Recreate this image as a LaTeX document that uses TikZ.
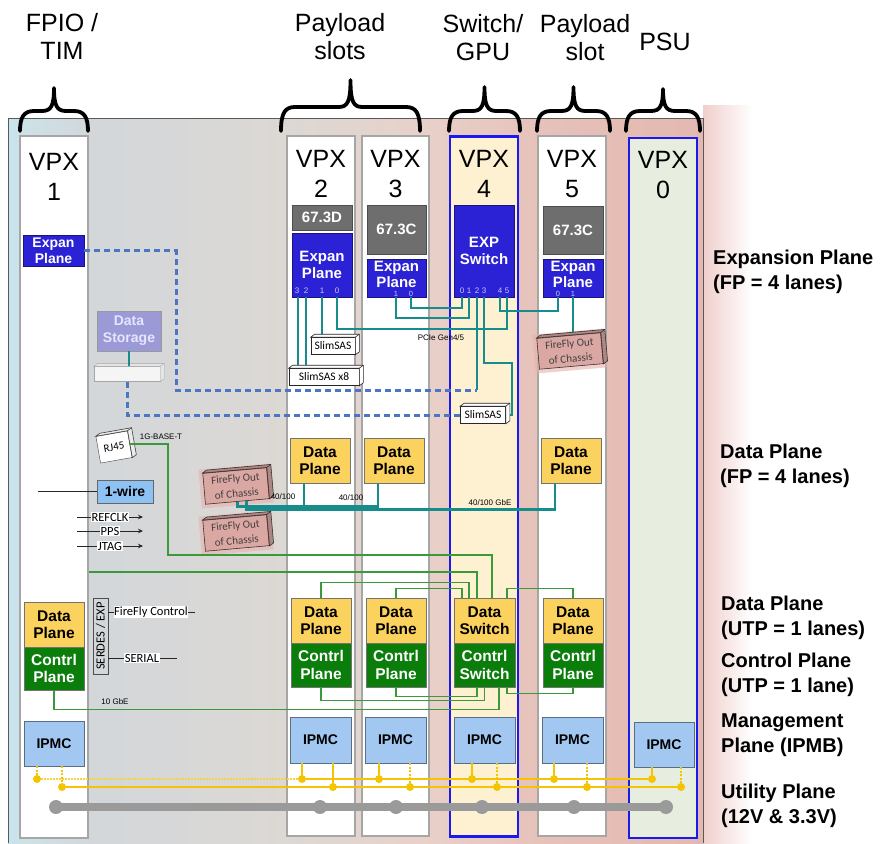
\documentclass[tikz,border=0pt]{standalone}
\usepackage{fontspec}
\setmainfont{Liberation Sans}
\newfontfamily\calfont{Carlito}
\usetikzlibrary{arrows.meta}
\definecolor{slotgray}{HTML}{A6A6A6}
\definecolor{slotblue}{HTML}{1A1AF0}
\definecolor{expblue}{HTML}{2A22D4}
\definecolor{grbox}{HTML}{6E6E6E}
\definecolor{dpyel}{HTML}{FCD25E}
\definecolor{cpgreen}{HTML}{0B7D0B}
\definecolor{ipmcblue}{HTML}{A2C8F2}
\definecolor{wireblue}{HTML}{8EC2F5}
\definecolor{dsfill}{HTML}{9C9AD6}
\definecolor{tealc}{HTML}{178C8C}
\definecolor{dashblue}{HTML}{4A76C4}
\definecolor{lgreen}{HTML}{3A9A3A}
\definecolor{goldc}{HTML}{F5C400}
\definecolor{barc}{HTML}{9A9A9A}
\definecolor{ffpink}{HTML}{DBA7A3}
\definecolor{ffglow}{HTML}{E9B0AC}
\definecolor{swfill}{HTML}{FDF1D2}
\definecolor{psufill}{HTML}{E7EEDF}
\definecolor{glowpink}{HTML}{EFCFCC}
\definecolor{portc}{HTML}{C8C8FF}
\definecolor{bgA}{HTML}{C6E4EE}
\definecolor{bgB}{HTML}{CDE2E8}
\definecolor{bgC}{HTML}{D3D7DA}
\definecolor{bgD}{HTML}{DCD8D4}
\definecolor{bgE}{HTML}{E8D1C9}
\definecolor{bgF}{HTML}{E6C2BA}
\definecolor{bgG}{HTML}{E3B8B0}
\pgfdeclarehorizontalshading{panelshade}{100bp}{color(0bp)=(bgA); color(25bp)=(bgA); color(26bp)=(bgB); color(31bp)=(bgC); color(45bp)=(bgD); color(55bp)=(bgE); color(63bp)=(bgF); color(75bp)=(bgG); color(100bp)=(bgG)}
\newcommand\mybrace[4]{%
  \draw[bracestyle] (#1,131) .. controls (#1,{#3+6}) and ({#1+4},#3) .. ({#1+14},#3)
    -- ({(#1+#2)/2-12},#3) .. controls ({(#1+#2)/2-3},#3) and ({(#1+#2)/2},{#3-5}) .. ({(#1+#2)/2},#4)
    .. controls ({(#1+#2)/2},{#3-5}) and ({(#1+#2)/2+3},#3) .. ({(#1+#2)/2+12},#3)
    -- ({#2-14},#3) .. controls ({#2-4},#3) and (#2,{#3+6}) .. (#2,131);}
\newcommand\boxdepth[2]{%
  \draw[#2] (#1.north west) -- ([shift={(4,-3)}]#1.north west) -- ([shift={(4,-3)}]#1.north east)
    -- ([shift={(4,-3)}]#1.south east) -- (#1.south east) -- (#1.north east) -- cycle;
  \draw[#2, fill=none] (#1.north east) -- ([shift={(4,-3)}]#1.north east);}
\begin{document}
\begin{tikzpicture}[x=1pt,y=-1pt,
  title/.style={align=center, font=\fontsize{25}{28}\selectfont, inner sep=0pt},
  vpx/.style={align=center, font=\fontsize{25}{30}\selectfont, inner sep=0pt},
  slot/.style={draw=slotgray, line width=2.2pt, fill=white, minimum width=68pt, inner sep=0pt},
  bslot/.style={slot, draw=slotblue},
  bracestyle/.style={line width=3.8pt, line cap=round, line join=round},
  bx/.style={inner sep=0pt, align=center, font=\bfseries\fontsize{15}{17}\selectfont, line width=0.8pt},
  expb/.style={bx, fill=expblue, draw=expblue!60!black, text=white},
  btext/.style={inner sep=0pt, align=center, text=white, font=\bfseries\fontsize{15}{16}\selectfont},
  grb/.style={bx, fill=grbox, draw=grbox!70!black, text=white},
  dpb/.style={bx, fill=dpyel, draw=black!55, minimum width=60pt, minimum height=45pt, font=\bfseries\fontsize{15.5}{17.5}\selectfont},
  cpb/.style={bx, fill=cpgreen, draw=black!55, text=white, minimum width=60pt, minimum height=44pt, font=\bfseries\fontsize{15.5}{17.5}\selectfont},
  ipmcb/.style={bx, fill=ipmcblue, draw=ipmcblue!55!black, minimum width=61pt, minimum height=46pt, font=\bfseries\fontsize{14}{16}\selectfont},
  port/.style={inner sep=0pt, font=\fontsize{8}{8}\selectfont, text=portc},
  sport/.style={port, font=\fontsize{7.5}{7.5}\selectfont},
  slimb/.style={draw=black!85, fill=white, line width=0.6pt, inner sep=0pt, font=\calfont\fontsize{11.5}{12}\selectfont, minimum height=17pt},
  ffb/.style={draw=black!80, fill=ffpink, line width=0.6pt, inner sep=0pt, align=center, font=\calfont\fontsize{11}{15}\selectfont, text=black!75, minimum width=64pt, minimum height=31pt, rotate=5, preaction={draw=ffglow, line width=8pt, opacity=0.6}},
  tealw/.style={draw=tealc, line width=2.6pt},
  dashw/.style={draw=dashblue, line width=3pt, dash pattern=on 6pt off 4pt},
  greenw/.style={draw=lgreen, line width=1.6pt},
  small/.style={inner sep=0pt, font=\fontsize{8}{9}\selectfont},
  sig/.style={inner sep=0.6pt, fill=white, font=\calfont\fontsize{12.5}{14}\selectfont},
  sigline/.style={draw=black!85, line width=0.9pt},
  goldw/.style={draw=goldc, line width=2pt},
  golddot/.style={circle, fill=goldc, inner sep=0pt, minimum size=8pt},
  bardot/.style={circle, fill=barc, inner sep=0pt, minimum size=14pt},
  rlab/.style={anchor=west, align=left, inner sep=0pt, font=\bfseries\fontsize{20}{25}\selectfont},
]
\useasboundingbox (0,0) rectangle (880,843);
\fill[white] (0,0) rectangle (880,843);
% glow and panel
\shade[left color=glowpink, right color=white] (703,105) rectangle (752,843);
\shade[shading=panelshade] (8,118) rectangle (703,843);
\draw[black!65, line width=1pt] (8,843) -- (8,118) -- (703,118) -- (703,843);

% titles
\node[title] (t1) at (62,36) {FPIO /\\TIM};
\node[title] (t2) at (340,37) {Payload\\slots};
\node[title] (t3) at (483,38) {Switch/\\GPU};
\node[title] (t4) at (585,38) {Payload\\slot};
\node[title] (t5) at (665,42) {PSU};
\mybrace{20}{88}{111}{88}
\mybrace{281}{420}{107}{80}
\mybrace{449}{520}{111}{87}
\mybrace{537}{610}{111}{87}
\mybrace{626}{700}{111}{89}

% slots
\node[slot, minimum height=702pt] (s1) at (54,487) {};
\node[slot, minimum height=700pt] (s2) at (321,486) {};
\node[slot, minimum width=67pt, minimum height=700pt] (s3) at (395.5,486) {};
\node[bslot, fill=swfill, minimum height=700pt] (s4) at (484,486.5) {};
\node[slot, minimum height=700pt] (s5) at (572,486) {};
\node[bslot, fill=psufill, minimum height=700pt] (s0) at (663,488) {};
\node[vpx] (v1) at (54,177) {VPX\\1};
\node[vpx] (v2) at (321,174) {VPX\\2};
\node[vpx] (v3) at (395.5,174) {VPX\\3};
\node[vpx] (v4) at (484,174) {VPX\\4};
\node[vpx] (v5) at (572,174) {VPX\\5};
\node[vpx] (v0) at (663,175) {VPX\\0};

% expansion plane boxes
\node[expb, minimum width=61pt, minimum height=31pt, font=\bfseries\fontsize{14}{16}\selectfont] (ex1) at (53.5,250.5) {Expan\\Plane};
\node[bx, fill=dsfill, draw=black!40, text=white!90!blue, minimum width=64pt, minimum height=40pt, font=\bfseries\fontsize{14}{17}\selectfont] (ds) at (129,331) {Data\\Storage};
\node[draw=black!35, fill=white!96!black, minimum width=66pt, minimum height=15pt, inner sep=0pt] (drive) at (127,374) {};
\boxdepth{drive}{draw=black!35, fill=white!90!black}
\node[grb, minimum width=60pt, minimum height=25pt] (g2) at (322,217.5) {67.3D};
\node[expb, minimum width=60pt, minimum height=64pt] (ex2) at (322,265) {Expan\\Plane};
\node[grb, minimum width=59pt, minimum height=49pt] (g3) at (396.5,229.5) {67.3C};
\node[expb, minimum width=59pt, minimum height=38pt] (ex3) at (396.5,278) {};
\node[btext] (ex3t) at (396.5,274.5) {Expan\\Plane};
\node[expb, minimum width=60pt, minimum height=92pt] (sw) at (484,251) {EXP\\Switch};
\node[grb, minimum width=60pt, minimum height=48pt] (g5) at (573,230) {67.3C};
\node[expb, minimum width=60pt, minimum height=38pt] (ex5) at (573,278) {};
\node[btext] (ex5t) at (573,274.5) {Expan\\Plane};
% ports
\node[port] (q23) at (297,291) {3};
\node[port] (q22) at (306,291) {2};
\node[port] (q21) at (322,291) {1};
\node[port] (q20) at (337,291) {0};
\node[sport] (q31) at (396,294.3) {1};
\node[sport] (q30) at (411,294.3) {0};
\node[port] (qs0) at (462,291) {0};
\node[port] (qs1) at (469,291) {1};
\node[port] (qs2) at (477,291) {2};
\node[port] (qs3) at (484,291) {3};
\node[port] (qs4) at (500,291) {4};
\node[port] (qs5) at (507,291) {5};
\node[sport] (q50) at (558,294.3) {0};
\node[sport] (q51) at (573,294.3) {1};
\coordinate (e2p3) at (298,297);
\coordinate (e2p2) at (306,297);
\coordinate (e2p1) at (322,297);
\coordinate (e2p0) at (337,297);
\coordinate (e3p1) at (396,297);
\coordinate (e3p0) at (411,297);
\coordinate (swp0) at (462,297);
\coordinate (swp1) at (469,297);
\coordinate (swp2) at (477,297);
\coordinate (swp3) at (484,297);
\coordinate (swp4) at (500,297);
\coordinate (swp5) at (507,297);
\coordinate (e5p0) at (558,297);
\coordinate (e5p1) at (573,297);

% slimsas and firefly
\node[slimb, minimum width=44pt] (slimA) at (333,346) {SlimSAS};
\node[slimb, minimum width=70pt] (slimB) at (324,377) {SlimSAS x8};
\node[slimb, minimum width=45pt] (slimC) at (483,415) {SlimSAS};
\node[ffb] (ff5) at (570,351) {FireFly Out\\of Chassis};
\node[ffb] (ff1) at (236,486) {FireFly Out\\of Chassis};
\node[ffb] (ff2) at (236,533) {FireFly Out\\of Chassis};
\node[draw=black!75, fill=white, rotate=10, minimum width=32pt, minimum height=27pt, inner sep=0pt, font=\calfont\fontsize{11}{12}\selectfont] (rj) at (114,447) {RJ45};

% teal connectors
\draw[tealw] (e2p3) -- (e2p3 |- slimB.north);
\draw[tealw] (e2p2) -- (e2p2 |- slimB.north);
\draw[tealw] (e2p1) -- (e2p1 |- slimA.north);
\draw[tealw] (e2p0) -- ++(0,32) -| (swp5);
\draw[tealw] (e3p1) -- ++(0,21) -| (swp1);
\draw[tealw] (e3p0) -- ++(0,11) -| (swp0);
\draw[tealw] (swp2) -- ++(0,93) coordinate (dashend);
\draw[tealw] (swp3) -- ++(0,66) -- ++(28,0) |- (slimC.east);
\draw[tealw] (swp4) -- ++(0,14) -| (e5p0);
\draw[tealw] (e5p1) -- (e5p1 |- ff5.north);
\draw[tealw] (ds.south) -- (ds.south |- drive.north);

% dashed expansion
\coordinate (dturn) at (176,390);
\draw[dashw] (ex1.east) -| (dturn) -- (dashend);
\draw[dashw] (drive.south) |- (slimC.west);

\boxdepth{slimA}{draw=black!85, fill=white, line width=0.6pt}
\boxdepth{slimB}{draw=black!85, fill=white, line width=0.6pt}
\boxdepth{slimC}{draw=black!85, fill=white, line width=0.6pt}
\boxdepth{ff5}{draw=black!80, fill=ffpink!80!black, line width=0.6pt}
\boxdepth{ff1}{draw=black!80, fill=ffpink!80!black, line width=0.6pt}
\boxdepth{ff2}{draw=black!80, fill=ffpink!80!black, line width=0.6pt}
\boxdepth{rj}{draw=black!75, fill=white!92!black, line width=0.6pt}

% data plane (FP)
\node[dpb] (dp2) at (320,460.5) {Data\\Plane};
\node[dpb] (dp3) at (394,460.5) {Data\\Plane};
\node[dpb] (dp5) at (571,460.5) {Data\\Plane};
\draw[tealw] (ff1.south) -- ++(0,5) -| ([xshift=-16pt]dp3.south);
\draw[tealw] ([xshift=-16pt]dp2.south) -- ++(0,23);
\draw[tealw] ([shift={(9,-1)}]ff1.south) -- ++(0,9) -| ([xshift=-16pt]dp5.south);
\node[small] (lb1) at (283,497) {40/100};
\node[small] (lb2) at (351,498) {40/100};
\node[small] (lb3) at (490,503) {40/100 GbE};
\node[small] (lb4) at (441,338) {PCIe Gen4/5};
\node[small] (lb5) at (161,437) {1G-BASE-T};
\node[small] (lb6) at (115,702) {10 GbE};

% 1-wire and signals
\node[bx, fill=wireblue, draw=black!60, minimum width=56pt, minimum height=23pt, font=\bfseries\fontsize{14}{16}\selectfont] (wire) at (125,491.5) {1-wire};
\coordinate (wl) at (38,491.5);
\draw[sigline] (wl) -- (wire.west);
\coordinate (ra) at (77,517); \coordinate (rb) at (143,517);
\coordinate (pa) at (77,531); \coordinate (pb) at (143,531);
\coordinate (ja) at (77,546); \coordinate (jb) at (143,546);
\draw[sigline, -{Stealth[length=5pt,width=4.5pt]}] (ra) -- (rb);
\draw[sigline, -{Stealth[length=5pt,width=4.5pt]}] (pa) -- (pb);
\draw[sigline, -{Stealth[length=5pt,width=4.5pt]}] (ja) -- (jb);
\node[sig] (rf) at (110,517) {REFCLK};
\node[sig] (pps) at (110,531) {PPS};
\node[sig] (jt) at (110,546) {JTAG};

% lower data/control
\node[dpb] (dq1) at (54,624.5) {Data\\Plane};
\node[cpb, minimum height=43pt] (cq1) at (54,668.5) {Contrl\\Plane};
\node[dpb] (dq2) at (321,620.5) {Data\\Plane};
\node[cpb] (cq2) at (321,665) {Contrl\\Plane};
\node[dpb] (dq3) at (396,620.5) {Data\\Plane};
\node[cpb] (cq3) at (396,665) {Contrl\\Plane};
\node[dpb, minimum width=61pt] (dq4) at (484.5,620.5) {Data\\Switch};
\node[cpb, minimum width=61pt] (cq4) at (484.5,665) {Contrl\\Switch};
\node[dpb] (dq5) at (573,620.5) {Data\\Plane};
\node[cpb] (cq5) at (573,665) {Contrl\\Plane};
\node[draw=black!70, rotate=90, minimum width=76pt, minimum height=15pt, inner sep=0pt, font=\calfont\fontsize{12.5}{14}\selectfont] (serdes) at (100.5,636) {SERDES / EXP};
\coordinate (fca) at (195,612);
\coordinate (sra) at (177,658);
\draw[sigline] (serdes.south |- 0,612) -- (fca);
\draw[sigline] (serdes.south |- 0,658) -- (sra);
\node[sig] (fc) at (151,612) {FireFly Control};
\node[sig] (sr) at (142,658) {SERIAL};

% green connectors
\draw[greenw] (rj.east) -- ++(38,0) -- ++(0,111) -| ([xshift=7.5pt]dq4.north);
\draw[greenw] (s1.east |- 0,572) -| ([xshift=-7.5pt]dq4.north);
\draw[greenw] (dq2.north) -- ++(0,-15) -| ([xshift=-15.5pt]dq4.north);
\draw[greenw] (dq3.north) -- ++(0,-9) -| ([xshift=-22.5pt]dq4.north);
\draw[greenw] ([xshift=22.5pt]dq4.north) -- ++(0,-9) -| (dq5.north);
\draw[greenw] (cq2.south) -- ++(0,13) -| (cq4.south);
\draw[greenw] (cq3.south) -- ++(0,9) -| ([xshift=-7.5pt]cq4.south);
\draw[greenw] ([xshift=22.5pt]cq4.south) -- ++(0,6) -| (cq5.south);
\draw[greenw] (cq1.south) -- ++(0,19) -| ([xshift=14.5pt]cq4.south);

% IPMC
\node[ipmcb, minimum width=60pt, minimum height=45pt] (i1) at (54,743.5) {IPMC};
\node[ipmcb] (i2) at (320.5,740) {IPMC};
\node[ipmcb] (i3) at (395.5,740) {IPMC};
\node[ipmcb] (i4) at (484.5,740) {IPMC};
\node[ipmcb] (i5) at (572.5,740) {IPMC};
\node[ipmcb, minimum width=60pt, minimum height=45pt] (i0) at (664,744.5) {IPMC};

% utility / IPMB lines
\node[golddot] (u1) at (37,779) {};
\node[golddot] (u2) at (302,779) {};
\node[golddot] (u3) at (379,779) {};
\node[golddot] (u4) at (472,779) {};
\node[golddot] (u5) at (554,779) {};
\node[golddot] (u6) at (652,779) {};
\node[golddot] (w1) at (62,787) {};
\node[golddot] (w2) at (333,787) {};
\node[golddot] (w3) at (410,787) {};
\node[golddot] (w4) at (497,787) {};
\node[golddot] (w5) at (587,787) {};
\node[golddot] (w6) at (681,787) {};
\draw[goldw, draw=goldc!75, dash pattern=on 2pt off 1pt] (u1) -- (u2);
\draw[goldw] (u2) -- (u6);
\draw[goldw] (w1) -- (w6);
\draw[goldw, line width=1.1pt, dash pattern=on 2pt off 1.5pt] (i1.south -| u1) -- (u1);
\draw[goldw, line width=1.1pt, dash pattern=on 2pt off 1.5pt] (i1.south -| w1) -- (w1);
\draw[goldw, line width=1.1pt] (i2.south -| u2) -- (u2);
\draw[goldw, line width=1.1pt] (i2.south -| w2) -- (w2);
\draw[goldw, line width=1.1pt] (i3.south -| u3) -- (u3);
\draw[goldw, line width=1.1pt, dash pattern=on 2pt off 1.5pt] (i3.south -| w3) -- (w3);
\draw[goldw, line width=1.1pt] (i4.south -| u4) -- (u4);
\draw[goldw, line width=1.1pt, dash pattern=on 2pt off 1.5pt] (i4.south -| w4) -- (w4);
\draw[goldw, line width=1.1pt] (i5.south -| u5) -- (u5);
\draw[goldw, line width=1.1pt, dash pattern=on 2pt off 1.5pt] (i5.south -| w5) -- (w5);
\draw[goldw, line width=1.1pt] (i0.south -| u6) -- (u6);
\draw[goldw, line width=1.1pt, dash pattern=on 2pt off 1.5pt] (i0.south -| w6) -- (w6);
\node[bardot] (b1) at (56,807) {};
\node[bardot] (b2) at (320,807) {};
\node[bardot] (b3) at (396,807) {};
\node[bardot] (b4) at (482,807) {};
\node[bardot] (b5) at (574,807) {};
\node[bardot] (b6) at (666,807) {};
\draw[draw=barc, line width=8pt] (b1.center) -- (b6.center);

% right labels
\node[rlab] (r1) at (713,271.6) {Expansion Plane\\(FP = 4 lanes)};
\node[rlab] (r2) at (720,465.6) {Data Plane\\(FP = 4 lanes)};
\node[rlab] (r3) at (721,617.6) {Data Plane\\(UTP = 1 lanes)};
\node[rlab] (r4) at (721,674.6) {Control Plane\\(UTP = 1 lane)};
\node[rlab] (r5) at (721,735.6) {Management\\Plane (IPMB)};
\node[rlab] (r6) at (721,805.6) {Utility Plane\\(12V \& 3.3V)};
\end{tikzpicture}
\end{document}
